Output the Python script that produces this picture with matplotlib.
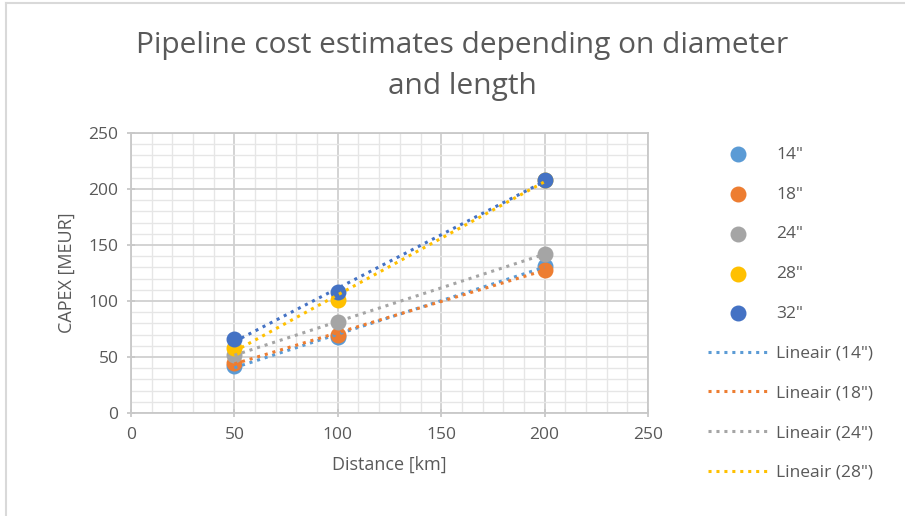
import numpy as np
import matplotlib.pyplot as plt
from matplotlib.lines import Line2D
from matplotlib.ticker import MultipleLocator

plt.rcParams['font.family'] = ['Open Sans', 'DejaVu Sans']

# data
distance = [50, 100, 200]
d14 = [42, 68, 131]
d18 = [45, 70, 128]
d24 = [52, 81, 142]
d28 = [58, 101, 208]
d32 = [66, 108, 208]
labels = ['14"', '18"', '24"', '28"', '32"']
colors = ['#5b9bd5', '#ed7d31', '#a5a5a5', '#ffc000', '#4472c4']
series = [d14, d18, d24, d28, d32]

fig = plt.figure(figsize=(9.05, 5.16), dpi=100)
ax = fig.add_axes([131/905, 1-413/516, (648-131)/905, (413-133)/516])

grey = '#595959'
# scatter points
pts = []
for vals, lab, c in zip(series, labels, colors):
    h = ax.scatter(distance, vals, s=110, color=c, zorder=3, label=lab)
    pts.append(h)

# linear trendlines
trend = []
x = np.array(distance)
for vals, lab, c in zip(series, labels, colors):
    k, b = np.polyfit(x, vals, 1)
    xs = np.array([min(distance), max(distance)])
    ln, = ax.plot(xs, k*xs + b, linestyle=(0, (1, 1.6)), linewidth=2.2,
                  color=c, zorder=4, label='Lineair (%s)' % lab)
    trend.append(ln)

ax.set_xlim(0, 250)
ax.set_ylim(0, 250)
ax.xaxis.set_major_locator(MultipleLocator(50))
ax.yaxis.set_major_locator(MultipleLocator(50))
ax.xaxis.set_minor_locator(MultipleLocator(10))
ax.yaxis.set_minor_locator(MultipleLocator(10))
ax.grid(which='major', color='#d0d0d0', linewidth=1.3)
ax.grid(which='minor', color='#e6e6e6', linewidth=1.0)
ax.set_axisbelow(True)
for s in ['top', 'right', 'left', 'bottom']:
    ax.spines[s].set_color('#c8c8c8')
    ax.spines[s].set_linewidth(1.3)
ax.tick_params(which='major', colors=grey, labelsize=12.5, length=6,
               direction='inout', width=1.3)
ax.tick_params(which='major', color='#c8c8c8')
ax.tick_params(which='minor', length=0)
ax.tick_params(axis='x', pad=7)
ax.tick_params(axis='y', pad=6)

ax.set_xlabel('Distance [km]', color=grey, fontsize=13, labelpad=9)
ax.set_ylabel('CAPEX [MEUR]', color=grey, fontsize=13, labelpad=9)

fig.text(462/905, 1-66/516, 'Pipeline cost estimates depending on diameter\nand length',
         ha='center', va='center', fontsize=21.5, color=grey, linespacing=1.55)

handles = pts + trend[:4]
leg = fig.legend(handles=handles, loc='upper left', bbox_to_anchor=(692/905, 1-131/516),
                 frameon=False, fontsize=12.5, labelspacing=1.36, handlelength=3.5,
                 handletextpad=0.45, borderpad=0.4)
for t in leg.get_texts():
    t.set_color(grey)

# chart border
fig.add_artist(Line2D([6/905, 6/905], [0, 1-3/516], transform=fig.transFigure,
                      color='#d9d9d9', linewidth=1.5))
fig.add_artist(Line2D([6/905, 1], [1-3/516, 1-3/516], transform=fig.transFigure,
                      color='#d9d9d9', linewidth=1.5))

fig.savefig('out.png', dpi=100)
